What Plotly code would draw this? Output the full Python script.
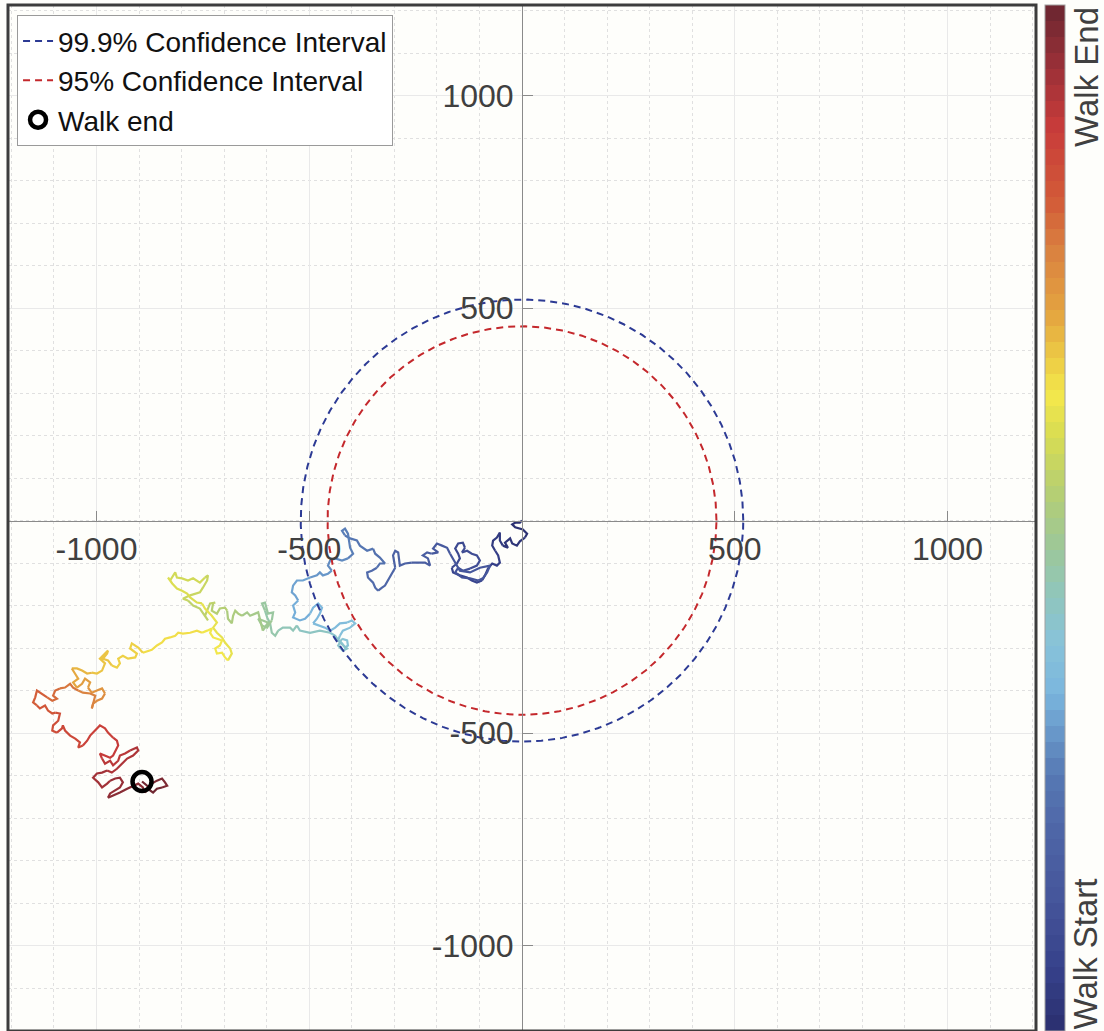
import numpy as np
import plotly.graph_objects as go

# ---------------- data ----------------
ci_999_radius = 520
ci_95_radius = 457

walk_end = (-893, -614)

# walk stages, in order of progress (start -> end)
stage_a_x = [0, -5, -16, -23, -16, 2, 12, 7, -5, -12, -23, -28, -40, -33, -45, -52, -52, -59, -68, -70, -63, -56, -52, -59, -70, -80, -87, -94, -106, -118, -129, -146, -162, -165, -153, -146, -150, -157, -150, -139, -134, -141, -129, -118, -106, -99, -106, -122, -139, -150, -157, -141, -122, -103, -92, -82, -75, -99, -122, -146, -169, -176, -188, -200, -209, -197, -212, -223, -233, -221, -216, -228, -244, -259, -275, -287]
stage_a_y = [0, -5, -5, -9, -16, -21, -31, -40, -49, -59, -54, -42, -52, -64, -59, -47, -28, -40, -47, -59, -71, -82, -99, -106, -101, -113, -129, -141, -146, -141, -134, -129, -122, -111, -101, -89, -78, -66, -54, -52, -64, -75, -71, -78, -82, -94, -106, -113, -118, -111, -122, -134, -136, -141, -136, -122, -106, -111, -122, -118, -78, -64, -59, -54, -66, -75, -78, -75, -82, -89, -106, -99, -99, -99, -101, -106]

stage_b_x = [-291, -298, -303, -298, -306, -315, -322, -329, -338, -345, -350, -362, -364, -353, -341, -334, -322, -334, -345, -350, -364, -381, -388, -404, -416, -423, -416, -409, -404, -397, -409, -423, -439, -451, -456, -447, -456, -468, -475, -482, -498]
stage_b_y = [-75, -71, -82, -111, -125, -141, -153, -158, -165, -158, -146, -134, -122, -118, -111, -101, -101, -87, -78, -66, -71, -59, -47, -42, -35, -24, -19, -31, -64, -78, -89, -94, -89, -94, -106, -118, -125, -129, -122, -129, -134]

stage_c_x = [-515, -529, -538, -541, -533, -526, -538, -533, -538, -522, -510, -498, -491, -479, -470, -475, -482, -491, -475, -463, -451, -439, -428, -411, -400, -392]
stage_c_y = [-141, -141, -153, -169, -176, -188, -200, -216, -228, -235, -231, -219, -205, -195, -205, -219, -231, -242, -247, -252, -259, -252, -242, -240, -235, -242]

stage_d_x = [-404, -421, -428, -432, -423, -416, -409, -411, -423, -432, -421, -411, -428, -439, -451]
stage_d_y = [-252, -259, -271, -282, -289, -299, -294, -282, -278, -294, -306, -301, -287, -271, -264]

stage_e_x = [-475, -498, -522, -529, -538, -545, -562, -573, -580, -588]
stage_e_y = [-259, -264, -259, -247, -259, -252, -252, -259, -271, -264]

stage_f_x = [-592, -599, -604, -611, -604, -597, -585, -588, -599, -611, -620, -597, -609, -620, -627, -639, -646, -658, -667, -674, -679, -682, -691, -693, -698, -710, -717]
stage_f_y = [-242, -228, -212, -195, -193, -219, -216, -235, -252, -247, -231, -240, -259, -216, -219, -224, -216, -224, -219, -212, -224, -242, -231, -212, -205, -207, -219]

stage_g_x = [-729, -726, -721, -733, -740, -745, -738, -757, -773, -785, -797, -780, -764, -757, -750, -740, -738, -745, -757, -773, -785, -799, -811, -815, -820, -827, -832, -822, -811, -799, -787, -780, -764, -752, -745, -729]
stage_g_y = [-212, -195, -193, -195, -212, -224, -235, -207, -200, -188, -184, -176, -172, -169, -158, -141, -129, -134, -146, -136, -141, -136, -134, -122, -129, -141, -134, -148, -160, -165, -172, -181, -193, -195, -207, -224]

stage_h_x = [-717, -726, -717, -705, -698, -686, -682, -691, -698, -705, -717, -721, -710, -705, -726, -733, -729, -740, -752, -764, -780, -797, -808, -815, -827, -839, -846, -858, -870, -891, -902, -917, -921, -905, -909, -926, -938, -949, -945, -952, -964, -973, -985, -975, -973, -985, -992, -980, -987]
stage_h_y = [-240, -252, -264, -275, -287, -301, -313, -329, -322, -311, -313, -301, -294, -282, -275, -264, -254, -259, -264, -259, -264, -266, -264, -271, -275, -278, -287, -294, -304, -311, -299, -289, -301, -313, -322, -325, -318, -325, -336, -346, -341, -329, -325, -313, -306, -318, -325, -336, -353]

stage_i_x = [-999, -1011, -1022, -1034, -1046, -1058, -1050, -1043, -1055, -1046, -1034, -1027, -1015, -1020, -1011, -999, -987, -980, -987, -999, -1008, -1011, -1003, -1015, -1032, -1043, -1055, -1062]
stage_i_y = [-360, -358, -360, -353, -348, -348, -360, -372, -381, -393, -384, -372, -381, -393, -405, -400, -395, -407, -419, -424, -431, -442, -412, -407, -405, -400, -393, -384]

stage_j_x = [-1074, -1086, -1097, -1102, -1093, -1104, -1116, -1128, -1140, -1144, -1149, -1140, -1133, -1121, -1114, -1104, -1097, -1086, -1090]
stage_j_y = [-393, -395, -400, -412, -419, -424, -416, -407, -400, -416, -428, -435, -442, -435, -447, -454, -452, -454, -471]

stage_k_x = [-1102, -1104, -1093, -1081, -1079, -1074, -1062, -1050, -1039, -1043, -1032, -1022, -1015, -1003, -992, -980, -973, -961, -952, -949, -956, -961, -968, -980, -992, -987, -980, -968, -961, -949, -945, -933, -921, -905, -902, -914, -928, -940, -952, -964, -975, -987, -999]
stage_k_y = [-482, -494, -499, -489, -482, -494, -506, -513, -522, -534, -529, -518, -506, -494, -482, -489, -499, -511, -518, -529, -541, -553, -558, -553, -548, -560, -572, -565, -576, -565, -553, -548, -541, -534, -541, -553, -560, -572, -584, -593, -588, -593, -595]

stage_l_x = [-1008, -996, -987, -975, -968, -956, -945, -938, -945, -956, -968, -973, -961, -945, -928, -914, -902, -891, -886, -879, -870, -858, -846, -839, -834, -846, -858, -867, -874, -881, -893]
stage_l_y = [-605, -616, -628, -619, -612, -607, -605, -616, -628, -635, -642, -652, -647, -640, -631, -624, -619, -628, -640, -631, -619, -612, -607, -616, -624, -628, -631, -640, -635, -624, -614]

stage_progress = [0.00, 0.18, 0.30, 0.37, 0.41, 0.45, 0.53, 0.60, 0.67, 0.78, 0.84, 0.93, 1.00]

x_tick_vals = [-1000, -500, 500, 1000]
y_tick_vals = [-1000, -500, 500, 1000]

# colormap of the reference colourbar (bottom -> top)
cmap_stops = [
    (0.00, "#2b2f6e"), (0.06, "#36418a"), (0.13, "#46569b"), (0.20, "#4f67a8"),
    (0.25, "#5679b4"), (0.29, "#6898c9"), (0.33, "#7bb6de"), (0.38, "#88c3d8"),
    (0.43, "#91c6b8"), (0.48, "#a0c892"), (0.53, "#b8d070"), (0.58, "#d8dc52"),
    (0.62, "#f4e84c"), (0.66, "#ecc844"), (0.70, "#e4a440"), (0.76, "#da8240"),
    (0.81, "#d25a38"), (0.88, "#c83c3a"), (0.94, "#9a3038"), (1.00, "#6a2630"),
]
N_BANDS = 64

# ---------------- helpers ----------------
def hex_rgb(h):
    return tuple(int(h[i:i + 2], 16) for i in (1, 3, 5))


def cmap(t):
    t = min(max(t, 0.0), 1.0)
    for (a, ca), (b, cb) in zip(cmap_stops[:-1], cmap_stops[1:]):
        if a <= t <= b:
            f = 0 if b == a else (t - a) / (b - a)
            r1, g1, b1 = hex_rgb(ca)
            r2, g2, b2 = hex_rgb(cb)
            return "rgb(%d,%d,%d)" % (round(r1 + f * (r2 - r1)), round(g1 + f * (g2 - g1)), round(b1 + f * (b2 - b1)))
    return cmap_stops[-1][1]


band_colors = [cmap((i + 0.5) / N_BANDS) for i in range(N_BANDS)]
discrete_scale = []
for i, c in enumerate(band_colors):
    discrete_scale.append([i / N_BANDS, c])
    discrete_scale.append([(i + 1) / N_BANDS, c])

stages = [(stage_a_x, stage_a_y), (stage_b_x, stage_b_y), (stage_c_x, stage_c_y),
          (stage_d_x, stage_d_y), (stage_e_x, stage_e_y), (stage_f_x, stage_f_y),
          (stage_g_x, stage_g_y), (stage_h_x, stage_h_y), (stage_i_x, stage_i_y),
          (stage_j_x, stage_j_y), (stage_k_x, stage_k_y), (stage_l_x, stage_l_y)]

xs, ys, ts = [], [], []
for k, (sx, sy) in enumerate(stages):
    t0, t1 = stage_progress[k], stage_progress[k + 1]
    n = len(sx)
    for j in range(n):
        xs.append(sx[j])
        ys.append(sy[j])
        ts.append(t0 + (t1 - t0) * j / n)
bands = [min(int(t * N_BANDS), N_BANDS - 1) for t in ts]

FONT = "Liberation Sans, Arial, Helvetica, sans-serif"
fig = go.Figure()

# walk, coloured by progress
i = 0
while i < len(xs):
    j = i
    while j + 1 < len(xs) and bands[j + 1] == bands[i]:
        j += 1
    end = min(j + 1, len(xs) - 1)
    fig.add_trace(go.Scatter(
        x=xs[i:end + 1], y=ys[i:end + 1], mode="lines",
        line=dict(color=band_colors[bands[i]], width=2.2),
        showlegend=False, hoverinfo="skip"))
    i = j + 1

# colourbar carrier
fig.add_trace(go.Scatter(
    x=[0], y=[0], mode="markers",
    marker=dict(size=1, opacity=0, color=[0], cmin=0, cmax=1,
                colorscale=discrete_scale, showscale=True,
                colorbar=dict(thickness=20, thicknessmode="pixels", len=1, lenmode="fraction",
                              x=1.0088, xanchor="left", y=0.5, yanchor="middle",
                              xpad=0, ypad=0, outlinecolor="#a0a0a0", outlinewidth=1,
                              showticklabels=False, ticks="")),
    showlegend=False, hoverinfo="skip"))

theta = np.linspace(0, 2 * np.pi, 721)
fig.add_trace(go.Scatter(
    x=ci_999_radius * np.cos(theta), y=ci_999_radius * np.sin(theta), mode="lines",
    line=dict(color="#2c3a94", width=2, dash="7px,5px"),
    name="99.9% Confidence Interval", legendrank=1, hoverinfo="skip"))
fig.add_trace(go.Scatter(
    x=ci_95_radius * np.cos(theta), y=ci_95_radius * np.sin(theta), mode="lines",
    line=dict(color="#c4282c", width=2, dash="7px,5px"),
    name="95% Confidence Interval", legendrank=2, hoverinfo="skip"))
fig.add_trace(go.Scatter(
    x=[walk_end[0]], y=[walk_end[1]], mode="markers",
    marker=dict(symbol="circle-open", size=19, color="black", line=dict(width=4.5, color="black")),
    name="Walk end", legendrank=3, hoverinfo="skip"))

x_range = [-1208, 1208]
y_range = [-1201, 1213]

axis_common = dict(
    showline=True, linecolor="#8a8a8a", linewidth=1,
    showgrid=True, gridcolor="#e9e9e9", gridwidth=1,
    zeroline=False, ticks="inside", ticklen=10, tickcolor="#8a8a8a",
    tickfont=dict(family=FONT, size=32, color="#404040"),
    minor=dict(tickmode="linear", tick0=0, dtick=100, showgrid=True,
               gridcolor="#e0e0e0", griddash="dot", gridwidth=1, ticks=""),
    anchor="free", fixedrange=True,
)

fig.update_layout(
    width=1104, height=1031,
    margin=dict(l=8, r=68, t=5, b=0),
    paper_bgcolor="#fefefb", plot_bgcolor="#fefefb",
    font=dict(family=FONT, color="#222"),
    xaxis=dict(range=x_range, tickmode="array", tickvals=x_tick_vals,
               ticktext=[str(v) for v in x_tick_vals],
               position=(0 - y_range[0]) / (y_range[1] - y_range[0]),
               ticklabelstandoff=0, **axis_common),
    yaxis=dict(range=y_range, tickmode="array", tickvals=y_tick_vals,
               ticktext=[str(v) for v in y_tick_vals],
               position=(0 - x_range[0]) / (x_range[1] - x_range[0]),
               ticklabelstandoff=2, **axis_common),
    legend=dict(x=0.0088, y=0.990, xanchor="left", yanchor="top",
                bgcolor="white", bordercolor="#9a9a9a", borderwidth=1,
                font=dict(family=FONT, size=28, color="#111"),
                tracegroupgap=0, itemwidth=30),
    showlegend=True,
    shapes=[dict(type="rect", xref="paper", yref="paper", x0=0, x1=1, y0=0, y1=1,
                 line=dict(color="#3c3c3c", width=3), layer="above")],
    annotations=[
        dict(text="Walk End", xref="paper", yref="paper", x=1.0486, y=1.0,
             xanchor="center", yanchor="top", textangle=-90, showarrow=False,
             font=dict(family=FONT, size=33, color="#404040")),
        dict(text="Walk Start", xref="paper", yref="paper", x=1.0486, y=0.0,
             xanchor="center", yanchor="bottom", textangle=-90, showarrow=False,
             font=dict(family=FONT, size=33, color="#404040")),
    ],
)

fig.write_html("out.html")
